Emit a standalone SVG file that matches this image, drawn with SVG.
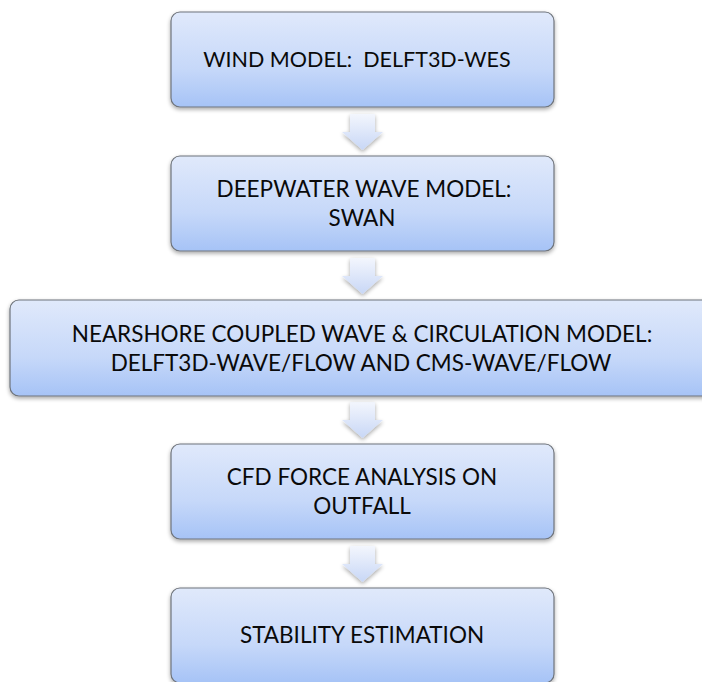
<svg xmlns="http://www.w3.org/2000/svg" width="702" height="682" viewBox="0 0 702 682">
<defs>
<linearGradient id="boxg" x1="0" y1="0" x2="0" y2="1">
<stop offset="0" stop-color="#e0e9fb"/>
<stop offset="0.6" stop-color="#c6d8f9"/>
<stop offset="1" stop-color="#a6c3f6"/>
</linearGradient>
<linearGradient id="arrg" x1="0" y1="0" x2="0" y2="1">
<stop offset="0" stop-color="#f3f6fd"/>
<stop offset="1" stop-color="#c8d7f6"/>
</linearGradient>
<filter id="sh" x="-10%" y="-20%" width="120%" height="150%">
<feGaussianBlur in="SourceAlpha" stdDeviation="2"/>
<feOffset dx="0" dy="2" result="b"/>
<feComponentTransfer><feFuncA type="linear" slope="0.35"/></feComponentTransfer>
<feMerge><feMergeNode/><feMergeNode in="SourceGraphic"/></feMerge>
</filter>
</defs>
<style>
.box{fill:url(#boxg);stroke:#6f747c;stroke-width:1.2;filter:url(#sh)}
.arr{fill:url(#arrg);stroke:none;filter:url(#sh)}
text{font-family:Lato,"Open Sans","Liberation Sans",sans-serif;font-size:22.5px;fill:#0a0a0a;text-anchor:middle}
</style>
<g id="connectors">
<path class="arr" d="M350,114 H375 V132 H383 L362.5,150 L342,132 H350 Z"/>
<path class="arr" d="M350,258 H375 V276 H383 L362.5,294 L342,276 H350 Z"/>
<path class="arr" d="M350,402 H375 V420 H383 L362.5,438 L342,420 H350 Z"/>
<path class="arr" d="M350,546 H375 V564 H383 L362.5,582 L342,564 H350 Z"/>
</g>
<g id="n1">
<rect class="box" x="171" y="12" width="383" height="95" rx="9"/>
<text x="357" y="67" xml:space="preserve" style="font-size:21.5px">WIND MODEL:  DELFT3D-WES</text>
</g>
<g id="n2">
<rect class="box" x="171" y="156" width="383" height="95" rx="9"/>
<text x="364" y="197">DEEPWATER WAVE MODEL:</text>
<text x="362" y="226">SWAN</text>
</g>
<g id="n3">
<rect class="box" x="10" y="300" width="704" height="96" rx="9"/>
<text x="362" y="342">NEARSHORE COUPLED WAVE &amp; CIRCULATION MODEL:</text>
<text x="361" y="371">DELFT3D-WAVE/FLOW AND CMS-WAVE/FLOW</text>
</g>
<g id="n4">
<rect class="box" x="171" y="444" width="383" height="95" rx="9"/>
<text x="362" y="485">CFD FORCE ANALYSIS ON</text>
<text x="362" y="514">OUTFALL</text>
</g>
<g id="n5">
<rect class="box" x="171" y="588" width="383" height="95" rx="9"/>
<text x="362" y="643">STABILITY ESTIMATION</text>
</g>
</svg>
